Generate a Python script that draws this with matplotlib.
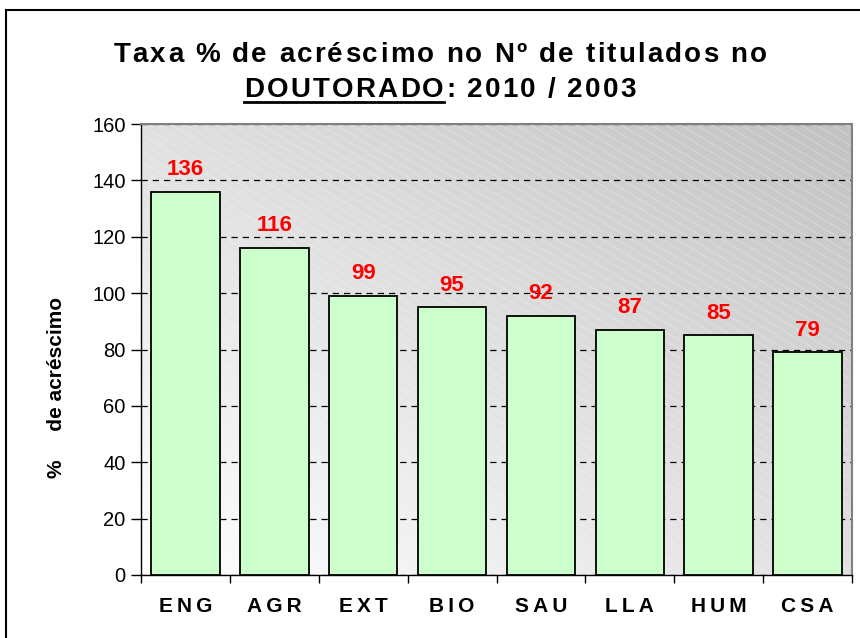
import numpy as np
import matplotlib
matplotlib.use('Agg')
import matplotlib.pyplot as plt
from matplotlib.colors import LinearSegmentedColormap
from matplotlib.patches import Rectangle
from matplotlib.lines import Line2D
from matplotlib.ft2font import FT2Font
from matplotlib.font_manager import findfont, FontProperties

plt.rcParams['font.family'] = ['Liberation Sans', 'DejaVu Sans']

# dados
areas = ['ENG', 'AGR', 'EXT', 'BIO', 'SAU', 'LLA', 'HUM', 'CSA']
taxa = [136, 116, 99, 95, 92, 87, 85, 79]
yticks = [0, 20, 40, 60, 80, 100, 120, 140, 160]
titulo1 = 'Taxa % de acréscimo no Nº de titulados no'
titulo2a = 'DOUTORADO'
titulo2b = ': 2010 / 2003'

W, H = 860, 638
fig = plt.figure(figsize=(W / 100, H / 100), dpi=100)
ax = fig.add_axes([141 / W, 1 - 575 / H, (852 - 141) / W, (575 - 124) / H])


def espacado(s, xc, yb, size, sp):
    """texto com espacamento entre letras (coords em pixels da figura)"""
    f = FT2Font(findfont(FontProperties(family='Liberation Sans', weight='bold')))
    f.set_size(size, 100)
    adv = [f.load_char(ord(c)).linearHoriAdvance / 65536 for c in s]
    total = sum(adv) + sp * (len(s) - 1)
    x = xc - total / 2
    pos = []
    for c, a in zip(s, adv):
        if c != ' ':
            fig.text((x + a / 2) / W, yb / H, c, ha='center', va='baseline',
                     fontweight='bold', fontsize=size)
        pos.append((x, x + a))
        x += a + sp
    return pos


# fundo em degrade
gx, gy = np.meshgrid(np.linspace(0, 1, 300), np.linspace(0, 1, 300))
cmap = LinearSegmentedColormap.from_list('bg', ['#ffffff', '#c2c2c2'])
ax.imshow((gx + gy) / 2, cmap=cmap, extent=[-0.5, len(areas) - 0.5, 0, 160],
          origin='lower', aspect='auto', zorder=0, interpolation='bilinear')

# linhas diagonais suaves do fundo
aw, ah = 711.0, 451.0
for c in np.arange(0, ah + 0.6 * aw + 10, 9):
    xs = np.array([0, aw])
    ys = c - 0.6 * xs
    ax.plot(xs / aw, ys / ah, transform=ax.transAxes, color='white',
            alpha=0.3, lw=0.6, zorder=0.2, clip_on=True)

x = np.arange(len(areas))
ax.bar(x, taxa, width=0.77, color='#ccffcc', edgecolor='black', linewidth=1.3, zorder=3)

for xi, v in zip(x, taxa):
    ax.annotate(str(v), (xi, v), xytext=(0, 12), textcoords='offset points',
                ha='center', va='baseline', color='#ff0000', fontweight='bold',
                fontsize=16, zorder=4)

ax.set_xlim(-0.5, len(areas) - 0.5)
ax.set_ylim(0, 160)
ax.set_yticks(yticks)
ax.yaxis.grid(True, linestyle=(0, (5, 4)), color='black', linewidth=0.9)
ax.set_axisbelow(True)

ax.set_xticks(x)
ax.set_xticklabels(['\u2009'.join(a) for a in areas], fontweight='bold', fontsize=15)
ax.set_xticks(np.arange(-0.5, len(areas), 1), minor=True)
ax.tick_params(axis='x', which='major', length=0, pad=16)
ax.tick_params(axis='x', which='minor', length=6, width=1, direction='out')
ax.tick_params(axis='y', length=7, width=1, labelsize=14.5, pad=4)

for s in ['top', 'right']:
    ax.spines[s].set_color('#808080')
    ax.spines[s].set_linewidth(1.5)
ax.spines['left'].set_linewidth(1)
ax.spines['bottom'].set_linewidth(1)

fig.text(57 / W, 1 - 387 / H, '%     de acréscimo', rotation=90, ha='center',
         va='center', fontweight='bold', fontsize=15)

# titulo
espacado(titulo1, 440, H - 62, 20, 2.2)
pos = espacado(titulo2a + titulo2b, 440, H - 97, 20, 2.2)
x_ini = pos[0][0]
x_fim = pos[len(titulo2a) - 1][1]
fig.add_artist(Line2D([x_ini / W, x_fim / W], [1 - 102 / H, 1 - 102 / H],
                      transform=fig.transFigure, color='black', lw=2))

# borda externa do grafico
fig.add_artist(Rectangle((6 / W, -0.1), 1.2, 1 - 10 / H + 0.1, transform=fig.transFigure,
                         fill=False, edgecolor='black', lw=1.5))

fig.savefig('out.png', dpi=100)
